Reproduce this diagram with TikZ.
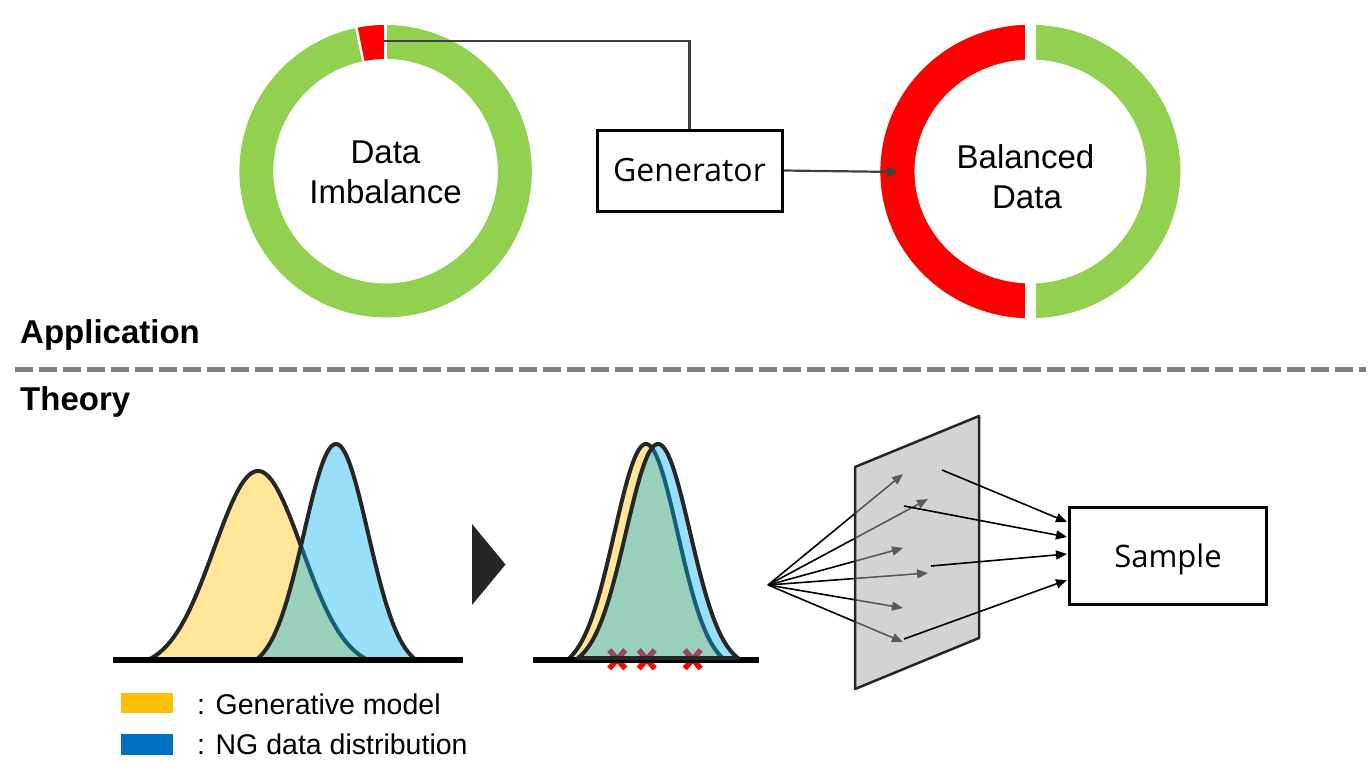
\documentclass[tikz,border=0pt]{standalone}
\usepackage{fontspec}
\setmainfont{Liberation Sans}
\newfontfamily\osans{Open Sans}
\usetikzlibrary{arrows.meta,calc}
\definecolor{ringgreen}{HTML}{92D050}
\definecolor{ringred}{HTML}{FF0000}
\definecolor{darkline}{HTML}{262626}
\definecolor{connc}{HTML}{404040}
\definecolor{gmodel}{HTML}{FFC000}
\definecolor{ngblue}{HTML}{00B0F0}
\definecolor{legblue}{HTML}{0070C0}
\definecolor{dashgray}{HTML}{808080}
\definecolor{planec}{RGB}{171,171,171}
\begin{document}
\begin{tikzpicture}[x=1pt,y=1pt,
  lbl/.style={inner sep=0pt, anchor=base, font=\fontsize{33}{38}\selectfont},
  head/.style={inner sep=0pt, anchor=base west, font=\bfseries\fontsize{33}{38}\selectfont},
  legtext/.style={inner sep=0pt, anchor=base west, font=\fontsize{28.5}{32}\selectfont},
  boxnode/.style={draw=black, inner sep=0pt, font=\osans\fontsize{32}{38}\selectfont},
  conn/.style={draw=connc, line width=2.2pt},
  ray/.style={draw=black, line width=1.6pt, -{Triangle[length=11pt,width=9pt]}},
  curve/.style={draw=darkline, line width=4pt, line join=round},
  crossmark/.style={draw=ringred, line width=5.5pt},
  ]
\useasboundingbox (0,0) rectangle (1368,-779);

% ---------- left donut ----------
\coordinate (lc) at (385.6,-171.2);
\fill[ringgreen, even odd rule] (lc) circle[radius=146.2] (lc) circle[radius=112.3];
\fill[ringred] ($(lc)+(90:146.2)$) arc[start angle=90, end angle=101.5, radius=146.2]
   -- ($(lc)+(101.5:112.3)$) arc[start angle=101.5, end angle=90, radius=112.3] -- cycle;
\draw[white, line width=2.5pt] ($(lc)+(90:108)$) -- ($(lc)+(90:150)$);
\draw[white, line width=2.5pt] ($(lc)+(101.5:108)$) -- ($(lc)+(101.5:150)$);
\node[lbl] (t-data) at (385.5,-163) {Data};
\node[lbl] (t-imb) at (385.5,-203) {Imbalance};

% ---------- right donut ----------
\coordinate (rc) at (1030.4,-171.5);
\fill[ringgreen, even odd rule] (rc) ellipse[x radius=150, y radius=146.7] (rc) ellipse[x radius=116, y radius=112];
\begin{scope}
  \clip (870,-10) rectangle (1030.4,-330);
  \fill[ringred, even odd rule] (rc) ellipse[x radius=150, y radius=146.7] (rc) ellipse[x radius=116, y radius=112];
\end{scope}
\fill[white] (1025,-15) rectangle (1035.8,-70);
\fill[white] (1025,-270) rectangle (1035.8,-325);
\node[lbl] (t-bal) at (1025.5,-168) {Balanced};
\node[lbl] (t-bdata) at (1027,-208) {Data};

% ---------- generator ----------
\node[boxnode, line width=3pt, minimum width=185pt, minimum height=81pt] (gen) at (689.5,-170.5) {Generator};
\coordinate (redpt) at (384,-41);
\coordinate (balin) at (898,-172);
\draw[conn] (redpt) -| (gen.north);
\draw[conn, -{Triangle[length=11pt,width=11pt]}] (gen.east) -- (balin);

% ---------- headings and divider ----------
\node[head] (app) at (20,-343) {Application};
\node[head] (theory) at (20,-410) {Theory};
\coordinate (dl) at (15,-369);
\coordinate (dr) at (1366,-369);
\draw[dashgray, line width=5pt, dash pattern=on 18pt off 6pt] (dl) -- (dr);

% ---------- graph 1 ----------
\fill[gmodel, fill opacity=0.4] plot[domain=148:368, samples=90, smooth] (\x,{-660+189*(exp(-((\x-258)/44)^2/2)-0.0439)/0.9561}) -- cycle;
\draw[curve] plot[domain=148:368, samples=90, smooth] (\x,{-660+189*(exp(-((\x-258)/44)^2/2)-0.0439)/0.9561});
\fill[ngblue, fill opacity=0.4] plot[domain=256:416, samples=90, smooth] (\x,{-660+216*(exp(-((\x-336)/32)^2/2)-0.0439)/0.9561}) -- cycle;
\draw[curve] plot[domain=256:416, samples=90, smooth] (\x,{-660+216*(exp(-((\x-336)/32)^2/2)-0.0439)/0.9561});
\coordinate (b1l) at (113,-660);
\coordinate (b1r) at (463,-660);
\draw[black, line width=6pt] (b1l) -- (b1r);

% ---------- triangle ----------
\fill[darkline] (472,-524) -- (472,-605) -- (505.5,-564.5) -- cycle;

% ---------- graph 2 ----------
\fill[gmodel, fill opacity=0.4] plot[domain=567:725, samples=90, smooth] (\x,{-660+216*(exp(-((\x-646)/31.6)^2/2)-0.0439)/0.9561}) -- cycle;
\draw[curve] plot[domain=567:725, samples=90, smooth] (\x,{-660+216*(exp(-((\x-646)/31.6)^2/2)-0.0439)/0.9561});
\foreach \cx in {617.3,646.7,692.7}{
  \draw[crossmark] (\cx-8,-650) -- (\cx+8,-668.5);
  \draw[crossmark] (\cx-8,-668.5) -- (\cx+8,-650);
}
\coordinate (b2l) at (533,-660);
\coordinate (b2r) at (759,-660);
\draw[black, line width=6pt] (b2l) -- (b2r);
\fill[ngblue, fill opacity=0.4] plot[domain=578:738, samples=90, smooth] (\x,{-658+214*(exp(-((\x-658)/32)^2/2)-0.0439)/0.9561}) -- cycle;
\draw[curve, line join=round] plot[domain=578:738, samples=90, smooth] (\x,{-658+214*(exp(-((\x-658)/32)^2/2)-0.0439)/0.9561}) -- cycle;

% ---------- projection plane ----------
\coordinate (src) at (768,-585);
\coordinate (p1) at (903,-474);
\coordinate (p2) at (928,-499);
\coordinate (p3) at (903,-548);
\coordinate (p4) at (928,-573);
\coordinate (p5) at (903,-608);
\coordinate (p6) at (903,-642);
\foreach \p in {p1,p2,p3,p4,p5,p6}{ \draw[ray] (src) -- (\p); }
\fill[planec, fill opacity=0.52] (855,-467) -- (979,-416) -- (979,-638) -- (855,-689) -- cycle;
\draw[darkline, line width=2.5pt, line join=round] (855,-467) -- (979,-416) -- (979,-638) -- (855,-689) -- cycle;

\node[boxnode, line width=2.5pt, minimum width=197pt, minimum height=97pt, text depth=0pt, font=\osans\fontsize{31}{36}\selectfont] (sample) at (1168,-556) {Sample};
\coordinate (q1) at (942,-470);
\coordinate (q2) at (904,-506);
\coordinate (q3) at (931,-566);
\coordinate (q4) at (904,-639);
\coordinate (s1) at (1067,-522);
\coordinate (s2) at (1067,-537);
\coordinate (s3) at (1067,-554);
\coordinate (s4) at (1067,-580);
\draw[ray] (q1) -- (s1);
\draw[ray] (q2) -- (s2);
\draw[ray] (q3) -- (s3);
\draw[ray] (q4) -- (s4);

% ---------- legend ----------
\fill[gmodel] (121,-693) rectangle (173,-713);
\fill[legblue] (121,-734) rectangle (173,-755);
\node[legtext] (leg1) at (197,-714) {: Generative model};
\node[legtext] (leg2) at (197,-754) {: NG data distribution};
\end{tikzpicture}
\end{document}
